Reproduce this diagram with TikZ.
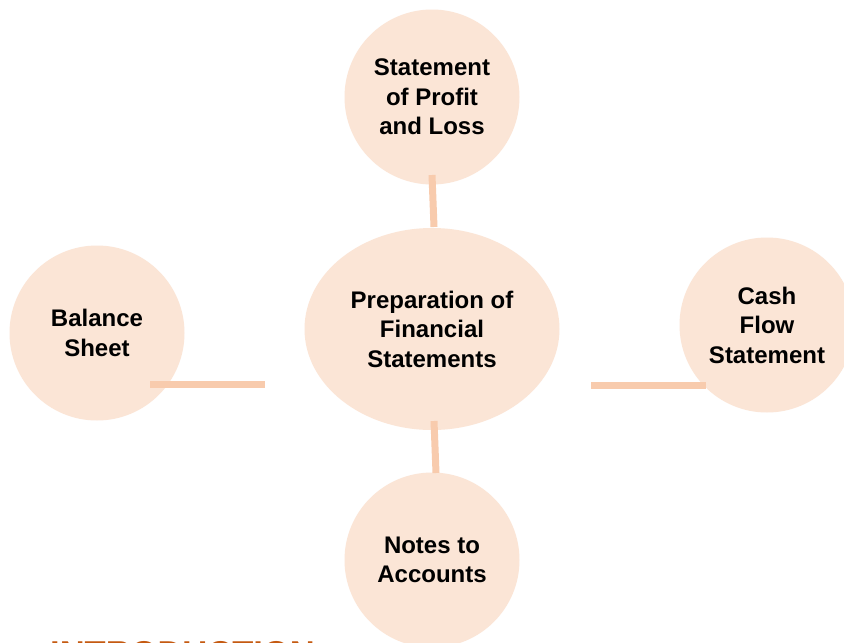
\documentclass[tikz,border=0pt]{standalone}
\usepackage{fontspec}
\setmainfont{Liberation Sans}
\usetikzlibrary{calc}
\definecolor{peach}{HTML}{FBE5D6}
\definecolor{linkc}{HTML}{F8CBAD}
\definecolor{headc}{HTML}{C55A11}
\tikzset{
  bubble/.style={circle, fill=peach, draw=none, inner sep=0pt, minimum size=175pt,
    align=center, font=\fontsize{24}{29.5}\selectfont\bfseries, text=black},
  hub/.style={ellipse, fill=peach, draw=none, inner sep=0pt, minimum width=255pt,
    minimum height=202pt, align=center, font=\fontsize{24}{29.5}\selectfont\bfseries, text=black},
  link/.style={draw=linkc, line width=7pt}
}
\usetikzlibrary{shapes.geometric}
\begin{document}
\begin{tikzpicture}[x=1pt,y=-1pt]
\useasboundingbox (0,0) rectangle (844,643);
\clip (0,0) rectangle (844,643);
\fill[white] (0,0) rectangle (844,643);
\node[bubble] (top) at (432,97) {Statement\\of Profit\\and Loss};
\node[hub] (hub) at (432,329) {Preparation of\\Financial\\Statements};
\node[bubble] (bal) at (97,333) {Balance\\Sheet};
\node[bubble] (cash) at (767,325) {Cash\\Flow\\Statement};
\node[bubble] (notes) at (432,560) {Notes to\\Accounts};
% connector end points
\coordinate (l1) at ($(bal.center)+(53,51)$);
\coordinate (l2) at ($(bal.center)+(168,51)$);
\coordinate (r1) at ($(cash.center)+(-176,60)$);
\coordinate (r2) at ($(cash.center)+(-61,60)$);
\coordinate (t1) at ($(top.center)+(0,78)$);
\coordinate (t2) at ($(hub.center)+(2,-102)$);
\coordinate (b1) at ($(hub.center)+(2,92)$);
\coordinate (b2) at ($(notes.center)+(4,-87)$);
\draw[link] (l1) -- (l2);
\draw[link] (r1) -- (r2);
\draw[link] (t1) -- (t2);
\draw[link] (b1) -- (b2);
\node[anchor=base west, inner sep=0pt, text=headc, font=\fontsize{34.5}{40}\selectfont\bfseries] (intro) at (50,665) {INTRODUCTION};
\end{tikzpicture}
\end{document}
